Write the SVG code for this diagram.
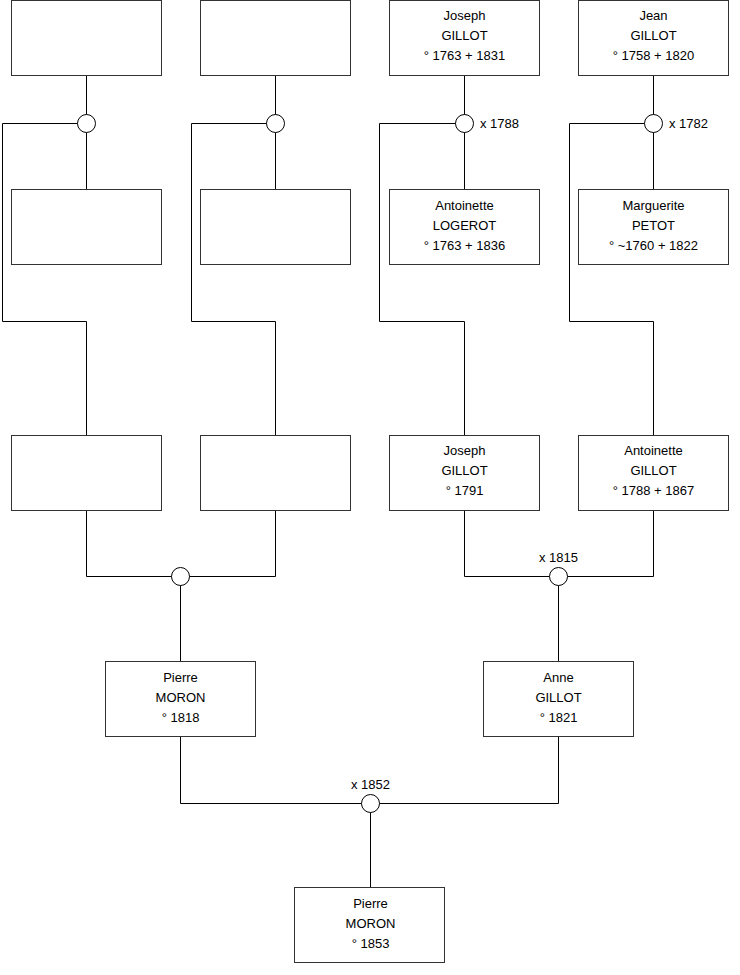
<svg xmlns="http://www.w3.org/2000/svg" width="740" height="975" viewBox="0 0 740 975">
<style>
.box{fill:#fff;stroke:#333;stroke-width:1}
.c{fill:#fff;stroke:#000;stroke-width:1}
.l{fill:none;stroke:#000;stroke-width:1}
text{font-family:"Liberation Sans",Arial,sans-serif;font-size:13px;fill:#000}
.m{text-anchor:middle}
</style>
<rect width="740" height="975" fill="#fff"/>
<g id="connectors">
<path class="l" d="M86.5 76V189M86.5 123.5H2.5V321.5H86.5V435"/>
<path class="l" d="M275.5 76V189M275.5 123.5H191.5V321.5H275.5V435"/>
<path class="l" d="M464.5 76V189M464.5 123.5H379.5V321.5H464.5V435"/>
<path class="l" d="M653.5 76V189M653.5 123.5H569.5V321.5H653.5V435"/>
<path class="l" d="M86.5 511V576.5H275.5V511M180.5 576.5V661"/>
<path class="l" d="M464.5 511V576.5H653.5V511M558.5 576.5V661"/>
<path class="l" d="M180.5 737V803.5H558.5V737M370.5 803.5V887"/>
<circle class="c" cx="86.5" cy="123.5" r="9"/>
<circle class="c" cx="275.5" cy="123.5" r="9"/>
<circle class="c" cx="464.5" cy="123.5" r="9"/>
<circle class="c" cx="653.5" cy="123.5" r="9"/>
<circle class="c" cx="180.5" cy="576.5" r="9"/>
<circle class="c" cx="558.5" cy="576.5" r="9"/>
<circle class="c" cx="370.5" cy="803.5" r="9"/>
<text x="480" y="128">x 1788</text>
<text x="669" y="128">x 1782</text>
<text class="m" x="558.5" y="562">x 1815</text>
<text class="m" x="370.5" y="789">x 1852</text>
</g>
<g id="n1"><rect class="box" x="11.5" y="0.5" width="150" height="75"/></g>
<g id="n2"><rect class="box" x="200.5" y="0.5" width="150" height="75"/></g>
<g id="n3"><rect class="box" x="389.5" y="0.5" width="150" height="75"/>
<text class="m" x="464.5" y="20">Joseph</text><text class="m" x="464.5" y="40">GILLOT</text><text class="m" x="464.5" y="60">° 1763 + 1831</text></g>
<g id="n4"><rect class="box" x="578.5" y="0.5" width="150" height="75"/>
<text class="m" x="653.5" y="20">Jean</text><text class="m" x="653.5" y="40">GILLOT</text><text class="m" x="653.5" y="60">° 1758 + 1820</text></g>
<g id="n5"><rect class="box" x="11.5" y="189.5" width="150" height="75"/></g>
<g id="n6"><rect class="box" x="200.5" y="189.5" width="150" height="75"/></g>
<g id="n7"><rect class="box" x="389.5" y="189.5" width="150" height="75"/>
<text class="m" x="464.5" y="210">Antoinette</text><text class="m" x="464.5" y="230">LOGEROT</text><text class="m" x="464.5" y="250">° 1763 + 1836</text></g>
<g id="n8"><rect class="box" x="578.5" y="189.5" width="150" height="75"/>
<text class="m" x="653.5" y="210">Marguerite</text><text class="m" x="653.5" y="230">PETOT</text><text class="m" x="653.5" y="250">° ~1760 + 1822</text></g>
<g id="n9"><rect class="box" x="11.5" y="435.5" width="150" height="75"/></g>
<g id="n10"><rect class="box" x="200.5" y="435.5" width="150" height="75"/></g>
<g id="n11"><rect class="box" x="389.5" y="435.5" width="150" height="75"/>
<text class="m" x="464.5" y="455">Joseph</text><text class="m" x="464.5" y="475">GILLOT</text><text class="m" x="464.5" y="495">° 1791</text></g>
<g id="n12"><rect class="box" x="578.5" y="435.5" width="150" height="75"/>
<text class="m" x="653.5" y="455">Antoinette</text><text class="m" x="653.5" y="475">GILLOT</text><text class="m" x="653.5" y="495">° 1788 + 1867</text></g>
<g id="n13"><rect class="box" x="105.5" y="661.5" width="150" height="75"/>
<text class="m" x="180.5" y="682">Pierre</text><text class="m" x="180.5" y="702">MORON</text><text class="m" x="180.5" y="722">° 1818</text></g>
<g id="n14"><rect class="box" x="483.5" y="661.5" width="150" height="75"/>
<text class="m" x="558.5" y="682">Anne</text><text class="m" x="558.5" y="702">GILLOT</text><text class="m" x="558.5" y="722">° 1821</text></g>
<g id="n15"><rect class="box" x="294.5" y="887.5" width="150" height="75"/>
<text class="m" x="370.5" y="908">Pierre</text><text class="m" x="370.5" y="928">MORON</text><text class="m" x="370.5" y="948">° 1853</text></g>
</svg>
